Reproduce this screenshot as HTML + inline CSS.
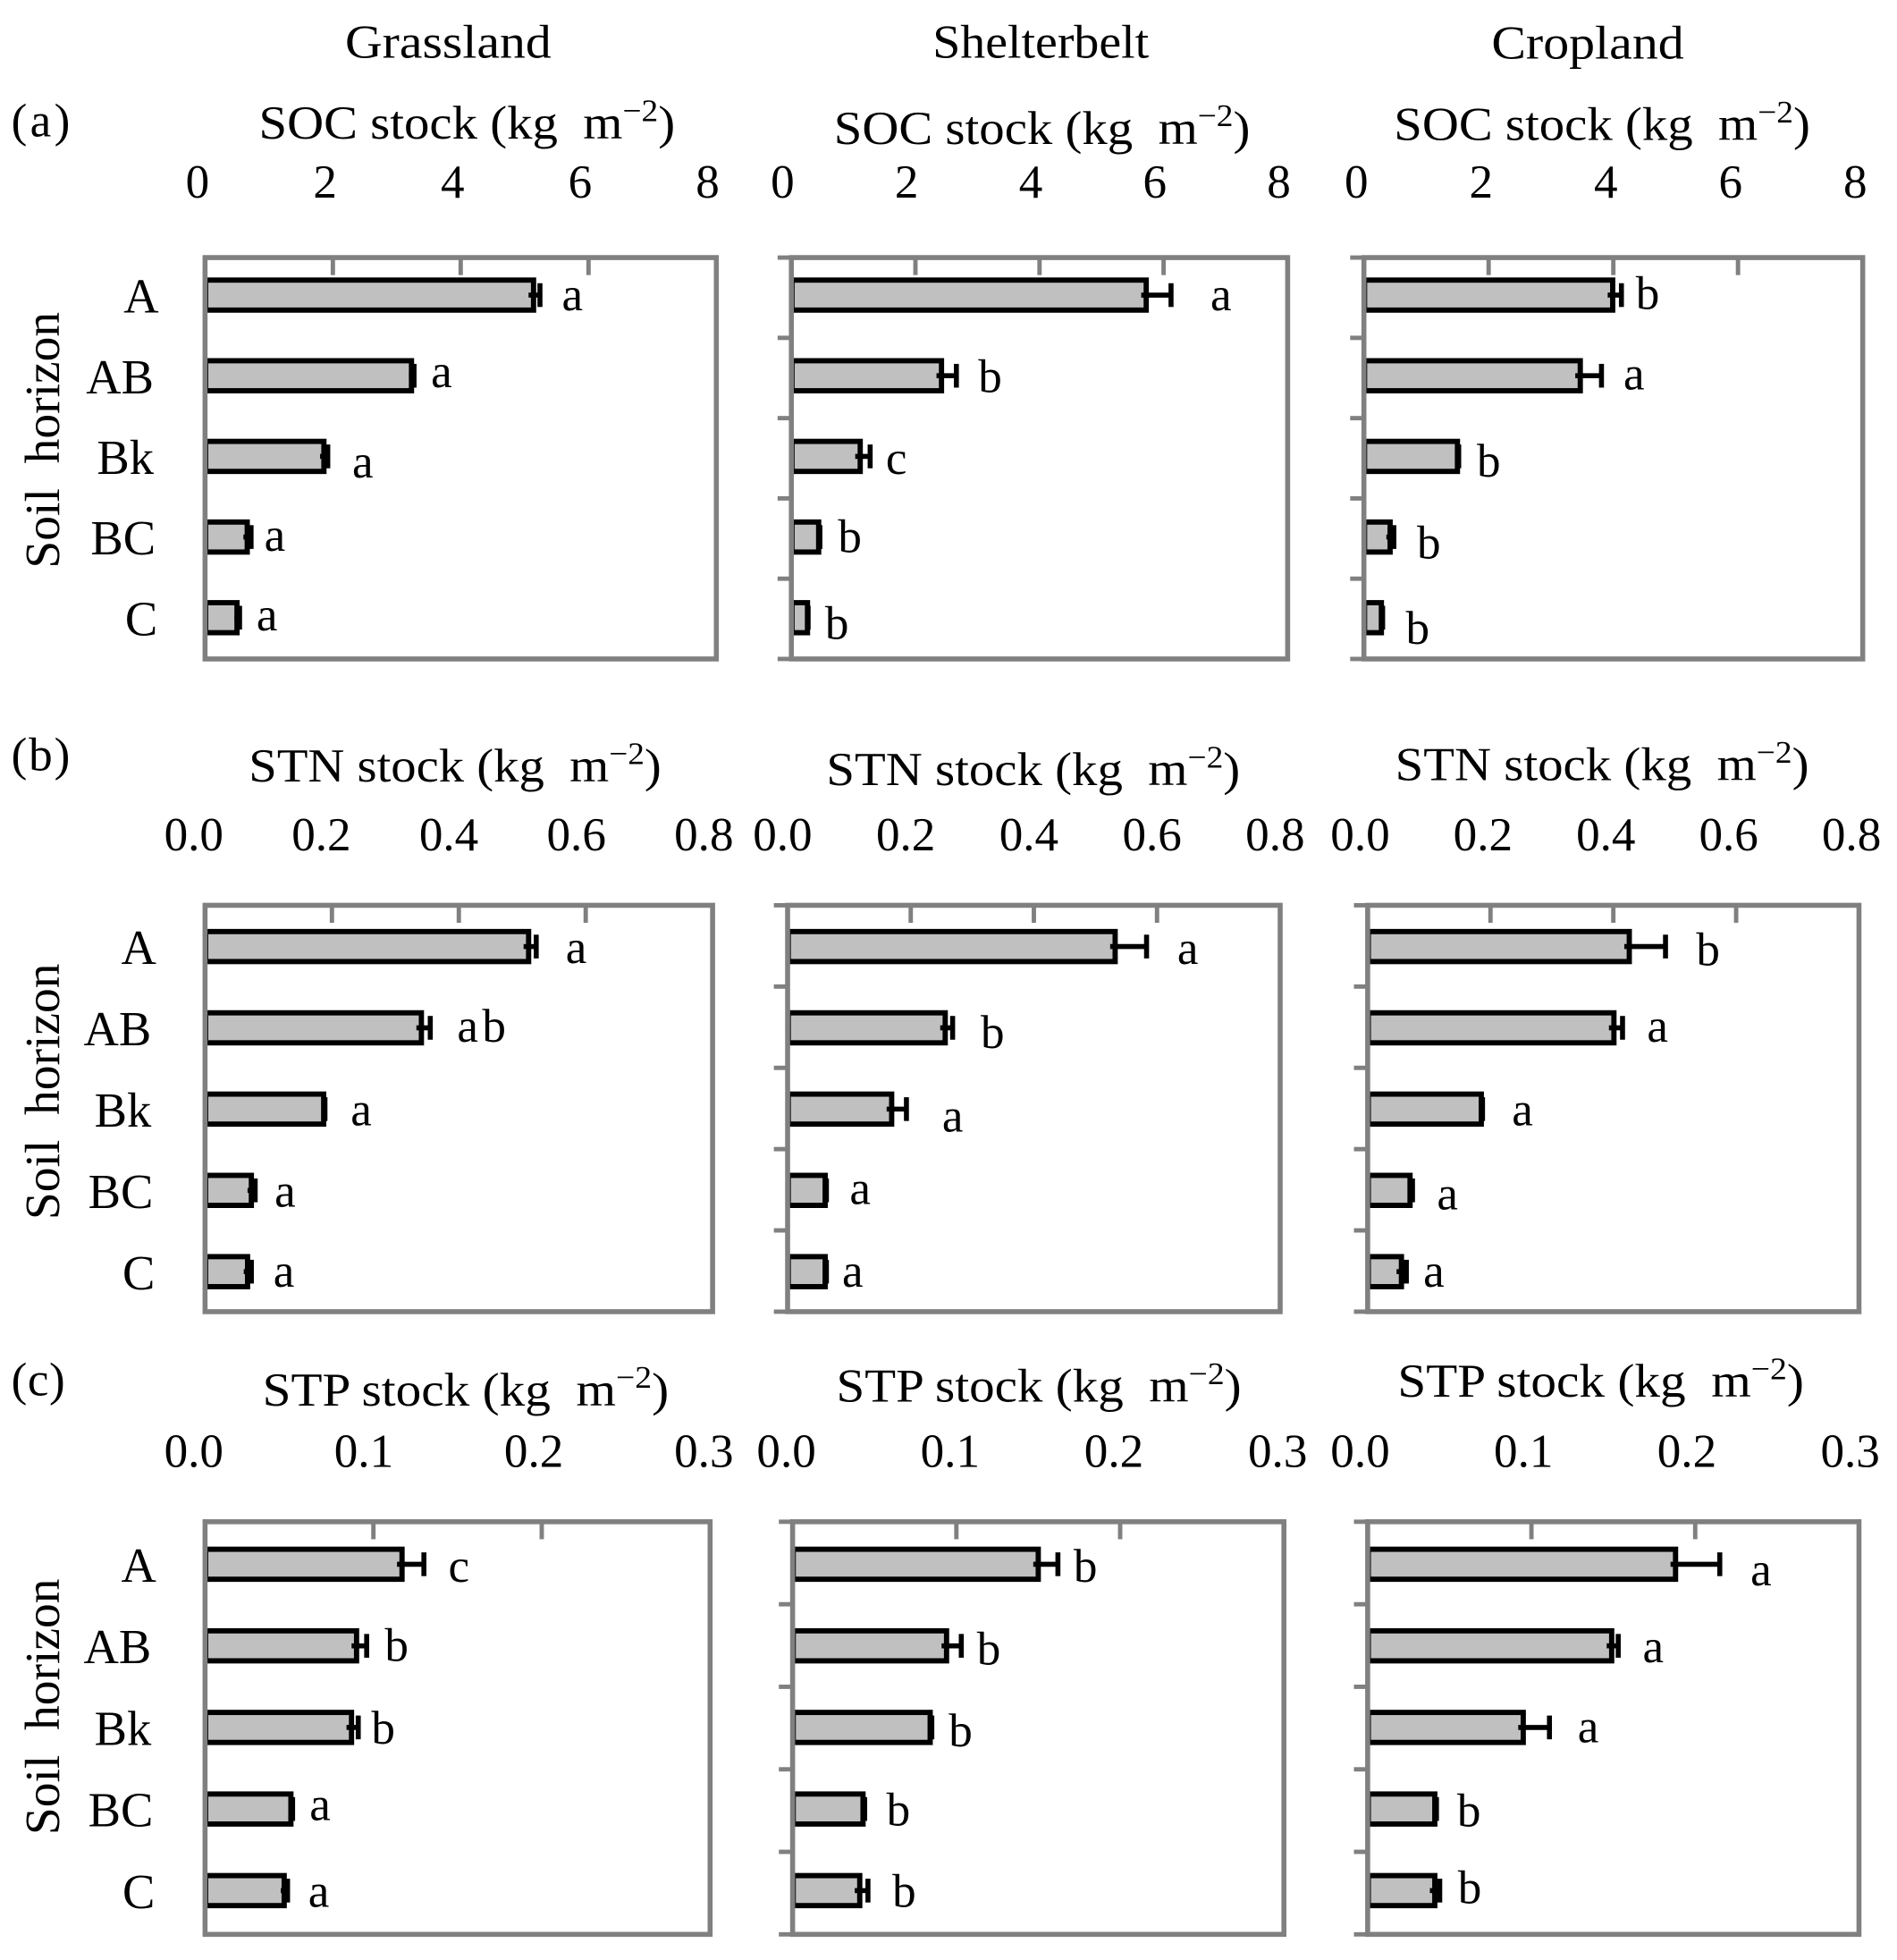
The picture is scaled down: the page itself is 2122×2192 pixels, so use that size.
<!DOCTYPE html>
<html lang="en">
<head>
<meta charset="utf-8">
<title>Soil stocks by horizon</title>
<style>
html,body{margin:0;padding:0;background:#fff;}
#figure{display:block;width:2122px;height:2192px;}
text{font-family:"Liberation Serif",serif;fill:#000;white-space:pre;}
</style>
</head>
<body>
<svg id="figure" xmlns="http://www.w3.org/2000/svg" viewBox="0 0 1517.4 1567.5" width="2122" height="2192">
  <rect width="1522" height="1573" fill="#fff"/>
  <text x="276" y="46" font-size="38" textLength="165" lengthAdjust="spacingAndGlyphs">Grassland</text>
  <text x="746" y="46" font-size="38" textLength="173" lengthAdjust="spacingAndGlyphs">Shelterbelt</text>
  <text x="1193" y="47" font-size="38" textLength="154" lengthAdjust="spacingAndGlyphs">Cropland</text>
  <text x="9" y="109" font-size="38" textLength="47">(a)</text>
  <text x="9" y="616" font-size="38" textLength="47">(b)</text>
  <text x="9" y="1116" font-size="38" textLength="43">(c)</text>
  <text transform="translate(47 352) rotate(-90)" text-anchor="middle" font-size="39" textLength="205" lengthAdjust="spacingAndGlyphs">Soil&#160;&#160;horizon</text>
  <text transform="translate(47 873) rotate(-90)" text-anchor="middle" font-size="39" textLength="205" lengthAdjust="spacingAndGlyphs">Soil&#160;&#160;horizon</text>
  <text transform="translate(47 1365) rotate(-90)" text-anchor="middle" font-size="39" textLength="205" lengthAdjust="spacingAndGlyphs">Soil&#160;&#160;horizon</text>
  <g id="panels"></g>
</svg>
<script>
const horizons = ['A', 'AB', 'Bk', 'BC', 'C'];

const socTicks = ['0', '2', '4', '6', '8'];
const stnTicks = ['0.0', '0.2', '0.4', '0.6', '0.8'];
const stpTicks = ['0.0', '0.1', '0.2', '0.3'];

const socGrassland = [5.14, 3.23, 1.86, 0.66, 0.50];
const socGrasslandErr = [0.10, 0.04, 0.06, 0.06, 0.04];
const socGrasslandLetters = ['a', 'a', 'a', 'a', 'a'];
const socShelterbelt = [5.72, 2.42, 1.11, 0.44, 0.26];
const socShelterbeltErr = [0.40, 0.24, 0.16, 0.02, 0.01];
const socShelterbeltLetters = ['a', 'b', 'c', 'b', 'b'];
const socCropland = [3.99, 3.47, 1.50, 0.42, 0.28];
const socCroplandErr = [0.14, 0.34, 0.02, 0.06, 0.02];
const socCroplandLetters = ['b', 'a', 'b', 'b', 'b'];

const stnGrassland = [0.510, 0.341, 0.187, 0.073, 0.067];
const stnGrasslandErr = [0.012, 0.014, 0.002, 0.006, 0.006];
const stnGrasslandLetters = ['a', 'ab', 'a', 'a', 'a'];
const stnShelterbelt = [0.532, 0.256, 0.169, 0.061, 0.061];
const stnShelterbeltErr = [0.051, 0.012, 0.024, 0.002, 0.002];
const stnShelterbeltLetters = ['a', 'b', 'a', 'a', 'a'];
const stnCropland = [0.426, 0.401, 0.185, 0.069, 0.055];
const stnCroplandErr = [0.059, 0.014, 0.002, 0.004, 0.008];
const stnCroplandLetters = ['b', 'a', 'a', 'a', 'a'];

const stpGrassland = [0.117, 0.090, 0.087, 0.051, 0.047];
const stpGrasslandErr = [0.013, 0.006, 0.004, 0.001, 0.002];
const stpGrasslandLetters = ['c', 'b', 'b', 'a', 'a'];
const stpShelterbelt = [0.150, 0.094, 0.084, 0.043, 0.041];
const stpShelterbeltErr = [0.012, 0.009, 0.001, 0.001, 0.005];
const stpShelterbeltLetters = ['b', 'b', 'b', 'b', 'b'];
const stpCropland = [0.188, 0.149, 0.095, 0.041, 0.041];
const stpCroplandErr = [0.027, 0.004, 0.016, 0.001, 0.003];
const stpCroplandLetters = ['a', 'a', 'a', 'b', 'b'];

const categoryNudge = [3, -1, -1, 0.5, 2];

const panelLayouts = [
  {id:'soc-grassland', label:'SOC', ticks:socTicks, means:socGrassland, errs:socGrasslandErr, letters:socGrasslandLetters,
   left:164, right:573, top:206, bottom:527, first:236, step:64.5, ticksOut:false, catEnd:124,
   titleX:207, titleW:333, titleY:111, tickA:158, tickB:566, tickY:158, nudgeX:[26,22,28,19,22], nudgeY:[12,9,17,11,10]},
  {id:'soc-shelterbelt', label:'SOC', ticks:socTicks, means:socShelterbelt, errs:socShelterbeltErr, letters:socShelterbeltLetters,
   left:633, right:1030, top:206, bottom:527, first:236, step:64.5, ticksOut:true,
   titleX:667, titleW:333, titleY:115, tickA:626, tickB:1023, tickY:158, nudgeX:[40,27,21,24,23], nudgeY:[12,13,14,12,17]},
  {id:'soc-cropland', label:'SOC', ticks:socTicks, means:socCropland, errs:socCroplandErr, letters:socCroplandLetters,
   left:1091, right:1490, top:206, bottom:527, first:236, step:64.5, ticksOut:true,
   titleX:1115, titleW:333, titleY:112, tickA:1085, tickB:1484, tickY:158, nudgeX:[21,26,24,28,28], nudgeY:[11,11,16,17,21]},
  {id:'stn-grassland', label:'STN', ticks:stnTicks, means:stnGrassland, errs:stnGrasslandErr, letters:stnGrasslandLetters,
   left:164, right:570, top:724, bottom:1049, first:757, step:65, ticksOut:false, catEnd:122,
   titleX:199, titleW:330, titleY:625, tickA:155, tickB:563, tickY:680, nudgeX:[32,41,29,24,26], nudgeY:[13,11,13,13,12]},
  {id:'stn-shelterbelt', label:'STN', ticks:stnTicks, means:stnShelterbelt, errs:stnShelterbeltErr, letters:stnShelterbeltLetters,
   left:630, right:1024, top:724, bottom:1049, first:757, step:65, ticksOut:true,
   titleX:661, titleW:331, titleY:628, tickA:626, tickB:1020, tickY:680, nudgeX:[33,32,37,27,21], nudgeY:[14,16,18,11,12]},
  {id:'stn-cropland', label:'STN', ticks:stnTicks, means:stnCropland, errs:stnCroplandErr, letters:stnCroplandLetters,
   left:1094, right:1487, top:724, bottom:1049, first:757, step:65, ticksOut:true,
   titleX:1116, titleW:331, titleY:624, tickA:1088, tickB:1481, tickY:680, nudgeX:[34,28,32,28,22], nudgeY:[15,11,13,15,12]},
  {id:'stp-grassland', label:'STP', ticks:stpTicks, means:stpGrassland, errs:stpGrasslandErr, letters:stpGrasslandLetters,
   left:164, right:568, top:1217, bottom:1547, first:1251, step:65.25, ticksOut:false, catEnd:122,
   titleX:210, titleW:325, titleY:1124, tickA:155, tickB:563, tickY:1173, nudgeX:[28,24,20,22,25], nudgeY:[14,12,13,9,13]},
  {id:'stp-shelterbelt', label:'STP', ticks:stpTicks, means:stpShelterbelt, errs:stpShelterbeltErr, letters:stpShelterbeltLetters,
   left:634, right:1027, top:1217, bottom:1547, first:1251, step:65.25, ticksOut:true,
   titleX:669, titleW:324, titleY:1121, tickA:629, tickB:1022, tickY:1173, nudgeX:[22,22,23,27,29], nudgeY:[14,15,15,13,13]},
  {id:'stp-cropland', label:'STP', ticks:stpTicks, means:stpCropland, errs:stpCroplandErr, letters:stpCroplandLetters,
   left:1094, right:1487, top:1217, bottom:1547, first:1251, step:65.25, ticksOut:true,
   titleX:1118, titleW:325, titleY:1117, tickA:1088, tickB:1480, tickY:1173, nudgeX:[33,28,31,26,24], nudgeY:[17,13,12,14,10]}
];

const SVG_NS = 'http://www.w3.org/2000/svg';
const FONT_SIZE = 38;
const FRAME_COLOR = '#808080';
const BAR_FILL = '#c0c0c0';
const BAR_HEIGHT = 24;
const CAP_HEIGHT = 19;
const ERR_STUB = 4;

function createNode(tag, attrs, parent, content) {
  const node = document.createElementNS(SVG_NS, tag);
  Object.keys(attrs).forEach(function (key) { node.setAttribute(key, attrs[key]); });
  if (content !== undefined) node.textContent = content;
  parent.appendChild(node);
  return node;
}

function drawPanel(p, root) {
  const group = createNode('g', {}, root);
  
  

  const tickValues = p.ticks.map(Number);
  const axisMax = tickValues[tickValues.length - 1];
  const xScale = function (v) { return p.left + (v / axisMax) * (p.right - p.left); };
  const labelScale = function (v) { return p.tickA + (v / axisMax) * (p.tickB - p.tickA); };
  const yCenter = function (i) { return p.first + i * p.step; };

  const title = createNode('text', {x: p.titleX, y: p.titleY, 'font-size': FONT_SIZE, textLength: p.titleW, lengthAdjust: 'spacingAndGlyphs'}, group);
  
  
  createNode('tspan', {}, title, p.label + ' stock (kg\u00a0\u00a0m');
  createNode('tspan', {dy: -14, 'font-size': 25}, title, '\u22122');
  createNode('tspan', {dy: 14}, title, ')');

  p.ticks.forEach(function (tick, i) {
    const label = createNode('text', {x: labelScale(tickValues[i]), y: p.tickY, 'font-size': FONT_SIZE, 'text-anchor': 'middle'}, group, tick);
    
    
  });

  horizons.forEach(function (name, i) {
    const cy = yCenter(i);
    const barEnd = xScale(p.means[i]);
    const errEnd = xScale(p.means[i] + p.errs[i]);
    const errStart = barEnd - Math.min(ERR_STUB, errEnd - barEnd);

    const bar = createNode('rect', {x: p.left + 0.5, y: cy - BAR_HEIGHT / 2, width: barEnd - p.left - 0.5, height: BAR_HEIGHT, fill: BAR_FILL, stroke: '#000', 'stroke-width': 4.2}, group);
    
    

    const errLine = createNode('line', {x1: errStart, x2: errEnd, y1: cy, y2: cy, stroke: '#000', 'stroke-width': 4}, group);
    
    

    const errCap = createNode('line', {x1: errEnd, x2: errEnd, y1: cy - CAP_HEIGHT / 2, y2: cy + CAP_HEIGHT / 2, stroke: '#000', 'stroke-width': 4}, group);
    
    

    const letter = createNode('text', {x: errEnd + p.nudgeX[i], y: cy + p.nudgeY[i], 'font-size': FONT_SIZE, 'text-anchor': 'middle'}, group, p.letters[i].split('').join(p.letters[i].length > 1 ? '\u200a' : ''));
    
    

    if (p.catEnd) {
      const cat = createNode('text', {x: p.catEnd + categoryNudge[i], y: cy + 14, 'font-size': 39, 'text-anchor': 'end'}, group, name);
      
      
    }
  });

  const frame = createNode('rect', {x: p.left, y: p.top, width: p.right - p.left, height: p.bottom - p.top, fill: 'none', stroke: FRAME_COLOR, 'stroke-width': 4}, group);
  
  

  tickValues.slice(1, -1).forEach(function (v, i) {
    const tx = xScale(v);
    const tickMark = createNode('line', {x1: tx, x2: tx, y1: p.top, y2: p.top + 14, stroke: FRAME_COLOR, 'stroke-width': 3.5}, group);
    
    
  });

  if (p.ticksOut) {
    const bandHeight = (p.bottom - p.top) / horizons.length;
    for (let k = 0; k <= horizons.length; k++) {
      const ty = p.top + k * bandHeight;
      const yTick = createNode('line', {x1: p.left - 11, x2: p.left, y1: ty, y2: ty, stroke: FRAME_COLOR, 'stroke-width': 3.5}, group);
      
      
    }
  }
}

const panelsRoot = document.getElementById('panels');
panelLayouts.forEach(function (p) { drawPanel(p, panelsRoot); });
</script>
</body>
</html>
